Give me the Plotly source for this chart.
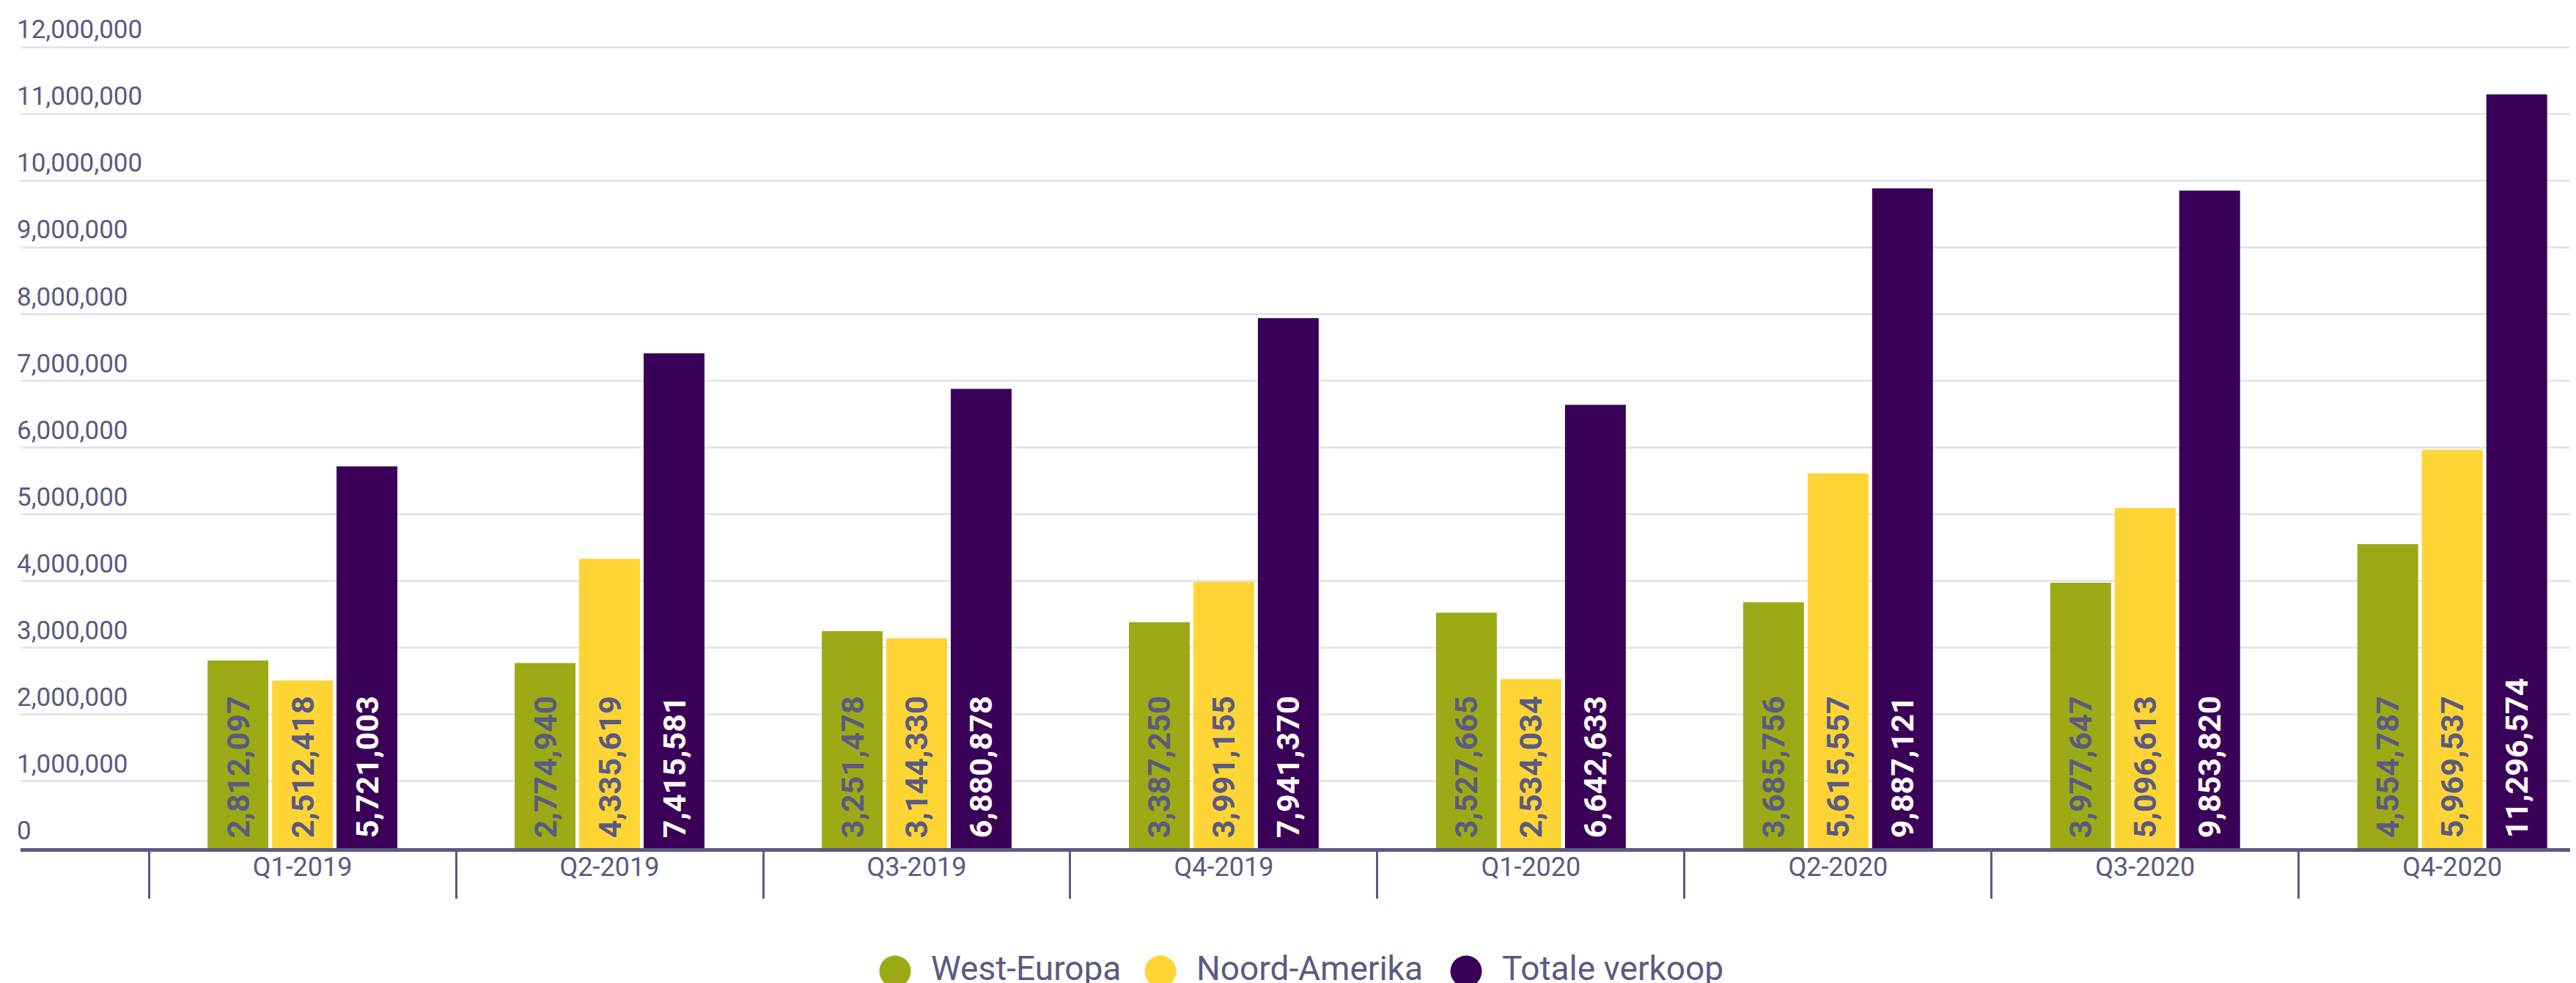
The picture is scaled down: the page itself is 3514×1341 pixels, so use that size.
import plotly.graph_objects as go

# ---- data ----
quarters = ["Q1-2019", "Q2-2019", "Q3-2019", "Q4-2019", "Q1-2020", "Q2-2020", "Q3-2020", "Q4-2020"]
west_europa = [2812097, 2774940, 3251478, 3387250, 3527665, 3685756, 3977647, 4554787]
noord_amerika = [2512418, 4335619, 3144330, 3991155, 2534034, 5615557, 5096613, 5969537]
totale_verkoop = [5721003, 7415581, 6880878, 7941370, 6642633, 9887121, 9853820, 11296574]
series_names = ["West-Europa", "Noord-Amerika", "Totale verkoop"]
y_ticks = [0, 1000000, 2000000, 3000000, 4000000, 5000000, 6000000,
           7000000, 8000000, 9000000, 10000000, 11000000, 12000000]

# ---- style ----
W, H = 3514, 1341
GREEN = "#9CAA16"
YELLOW = "#FFD535"
PURPLE = "#3A0058"
SLATE = "#5A5A82"
GRID = "#E6E5EC"
FONT = "Roboto"

Y_MAX = 12600000
M_L, M_R, M_T, M_B = 20, 0, 2, 192
plot_w = W - M_L - M_R
plot_h = H - M_T - M_B

fig = go.Figure()
series = [west_europa, noord_amerika, totale_verkoop]
colors = [GREEN, YELLOW, PURPLE]
text_colors = [SLATE, SLATE, "#FFFFFF"]
for name, vals, col, tcol in zip(series_names, series, colors, text_colors):
    fig.add_trace(go.Bar(
        name=name, x=quarters, y=vals,
        marker=dict(color=col, line=dict(width=0)),
        texttemplate="\u00a0%{y:,.0f}",
        textposition="inside",
        insidetextanchor="start",
        textangle=-90,
        insidetextfont=dict(family=FONT, size=43, color=tcol, weight="bold"),
        showlegend=False,
        hoverinfo="x+y+name",
    ))

fig.update_layout(
    width=W, height=H,
    margin=dict(l=M_L, r=M_R, t=M_T, b=M_B, pad=0),
    paper_bgcolor="white", plot_bgcolor="white",
    barmode="group", bargap=0.37, bargroupgap=0.057,
    showlegend=False,
    font=dict(family=FONT, color=SLATE),
)

fig.update_xaxes(
    type="category",
    range=[-0.918, 7.422],
    showline=True, linecolor=SLATE, linewidth=5,
    showgrid=False, zeroline=False,
    ticks="outside", tickson="boundaries", ticklen=64, tickwidth=3, tickcolor=SLATE,
    ticklabelstandoff=-10,
    tickfont=dict(family=FONT, size=36, color=SLATE),
)
fig.update_yaxes(
    range=[0, Y_MAX],
    tickvals=y_ticks, tickformat=",",
    ticklabelposition="inside top",
    ticklabelstandoff=-8,
    tickfont=dict(family=FONT, size=35, color=SLATE),
    showgrid=True, gridcolor=GRID, gridwidth=3,
    zeroline=False, showline=False, ticks="",
)

# ---- custom legend (large circular symbols) ----
legend_px = [1213, 1575, 1992]
legend_py = 1313
for name, col, px in zip(series_names, colors, legend_px):
    xp = (px - M_L) / plot_w
    yp = (H - M_B - legend_py) / plot_h
    fig.add_shape(type="circle", xref="paper", yref="paper",
                  xsizemode="pixel", ysizemode="pixel",
                  xanchor=xp, yanchor=yp, x0=-21.5, x1=21.5, y0=-25.5, y1=17.5,
                  fillcolor=col, line=dict(width=0))
    fig.add_annotation(text=name, xref="paper", yref="paper", x=xp, y=yp,
                       xshift=47, xanchor="left", yanchor="middle", showarrow=False,
                       font=dict(family=FONT, size=46, color=SLATE))

fig.write_html("out.html")
